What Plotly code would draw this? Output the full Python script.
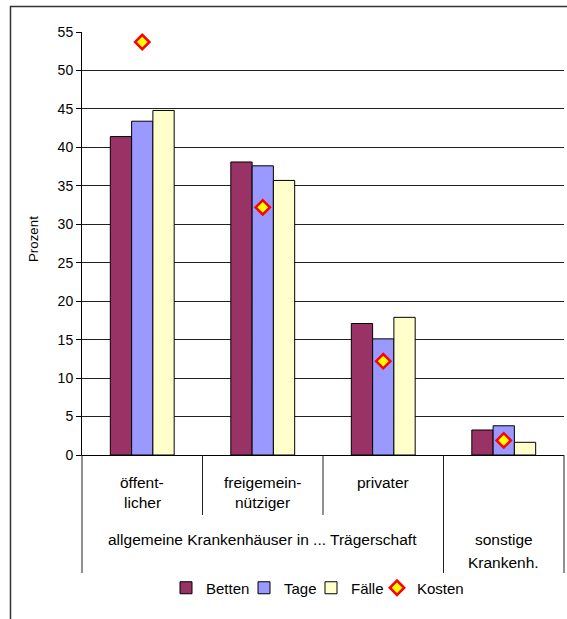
import plotly.graph_objects as go

# ---- data ----
categories = [0, 1, 2, 3]
sub_labels = [["öffent-", "licher"], ["freigemein-", "nützig" + "er"], ["privater"], ["sonstige", "Krankenh."]]
betten = [41.4, 38.1, 17.1, 3.25]
tage = [43.4, 37.6, 15.1, 3.8]
faelle = [44.8, 35.7, 17.9, 1.65]
kosten = [53.7, 32.2, 12.2, 1.9]
group_label = "allgemeine Krankenhäuser in ... Trägerschaft"
legend_widths = [33, 22, 21, None]

W, H = 567, 619
L, R, T, B = 82, 3, 32, 164
plot_w = W - L - R
plot_h = H - T - B

FONT = "Liberation Sans, Arial, sans-serif"

fig = go.Figure()
fig.add_bar(x=categories, y=betten, name="Betten", legendwidth=legend_widths[0],
            marker=dict(color="#993366", line=dict(color="#000000", width=1)))
fig.add_bar(x=categories, y=tage, name="Tage", legendwidth=legend_widths[1],
            marker=dict(color="#9999FF", line=dict(color="#000000", width=1)))
fig.add_bar(x=categories, y=faelle, name="Fälle", legendwidth=legend_widths[2],
            marker=dict(color="#FFFFCC", line=dict(color="#000000", width=1)))
fig.add_scatter(x=categories, y=kosten, name="Kosten", mode="markers",
                marker=dict(symbol="diamond", size=11, color="#FFFF00",
                            line=dict(color="#FF0000", width=2.5)))

def py(p):
    """pixel y -> paper y"""
    return (H - B - p) / plot_h

def px(p):
    return (p - L) / plot_w

xmin, xmax = -0.5, len(categories) - 0.5
def xpaper(v):
    return (v - xmin) / (xmax - xmin)

shapes = []
for i in range(len(categories) + 1):
    xv = xmin + i
    long = i in (0, 3, 4)
    shapes.append(dict(type="line", xref="paper", yref="paper",
                       x0=xpaper(xv), x1=xpaper(xv), y0=0,
                       y1=py(573) if long else py(515),
                       line=dict(color="#222222", width=1)))
# outer frame
shapes.append(dict(type="rect", xref="paper", yref="paper",
                   x0=px(10.5), x1=px(580), y0=py(640), y1=py(6.5),
                   line=dict(color="#333333", width=1.5)))

CAT_SIZE = 15.5
annotations = []
for c, lines in zip(categories, sub_labels):
    ys = [482, 502] if c < 3 else [539, 562]
    for ln, yy in zip(lines, ys):
        annotations.append(dict(x=c, xref="x", y=py(yy), yref="paper", text=ln,
                                showarrow=False, yanchor="middle",
                                font=dict(size=CAT_SIZE, color="#000000", family=FONT)))
annotations.append(dict(x=1, xref="x", y=py(539), yref="paper", text=group_label,
                        showarrow=False, yanchor="middle",
                        font=dict(size=CAT_SIZE, color="#000000", family=FONT)))
annotations.append(dict(x=px(33), xref="paper", y=py(239), yref="paper", text="Prozent",
                        textangle=-90, showarrow=False, xanchor="center", yanchor="middle",
                        font=dict(size=13.3, color="#000000", family=FONT)))

fig.update_layout(
    width=W, height=H,
    margin=dict(l=L, r=R, t=T, b=B, pad=0),
    paper_bgcolor="white", plot_bgcolor="white",
    font=dict(family=FONT, size=14, color="#000000"),
    barmode="group", bargap=0.47, bargroupgap=0,
    showlegend=True,
    legend=dict(orientation="h", x=px(166), xanchor="left", y=py(588), yanchor="middle",
                font=dict(size=15, family=FONT), itemwidth=30, tracegroupgap=0,
                bgcolor="rgba(0,0,0,0)", borderwidth=0),
    xaxis=dict(range=[xmin, xmax], showticklabels=False, ticks="", showgrid=False,
               zeroline=False, showline=True, linecolor="#000000", linewidth=1),
    yaxis=dict(range=[0, 55], dtick=5, tick0=0, showgrid=True, gridcolor="#222222",
               gridwidth=1, zeroline=False, showline=True, linecolor="#000000",
               linewidth=1, ticks="outside", ticklen=5, tickcolor="#000000",
               tickfont=dict(size=14, family=FONT)),
    shapes=shapes, annotations=annotations,
)

fig.write_html("out.html", config={"displayModeBar": False},
               post_script="document.body.style.margin='0';document.body.style.overflow='hidden';")
